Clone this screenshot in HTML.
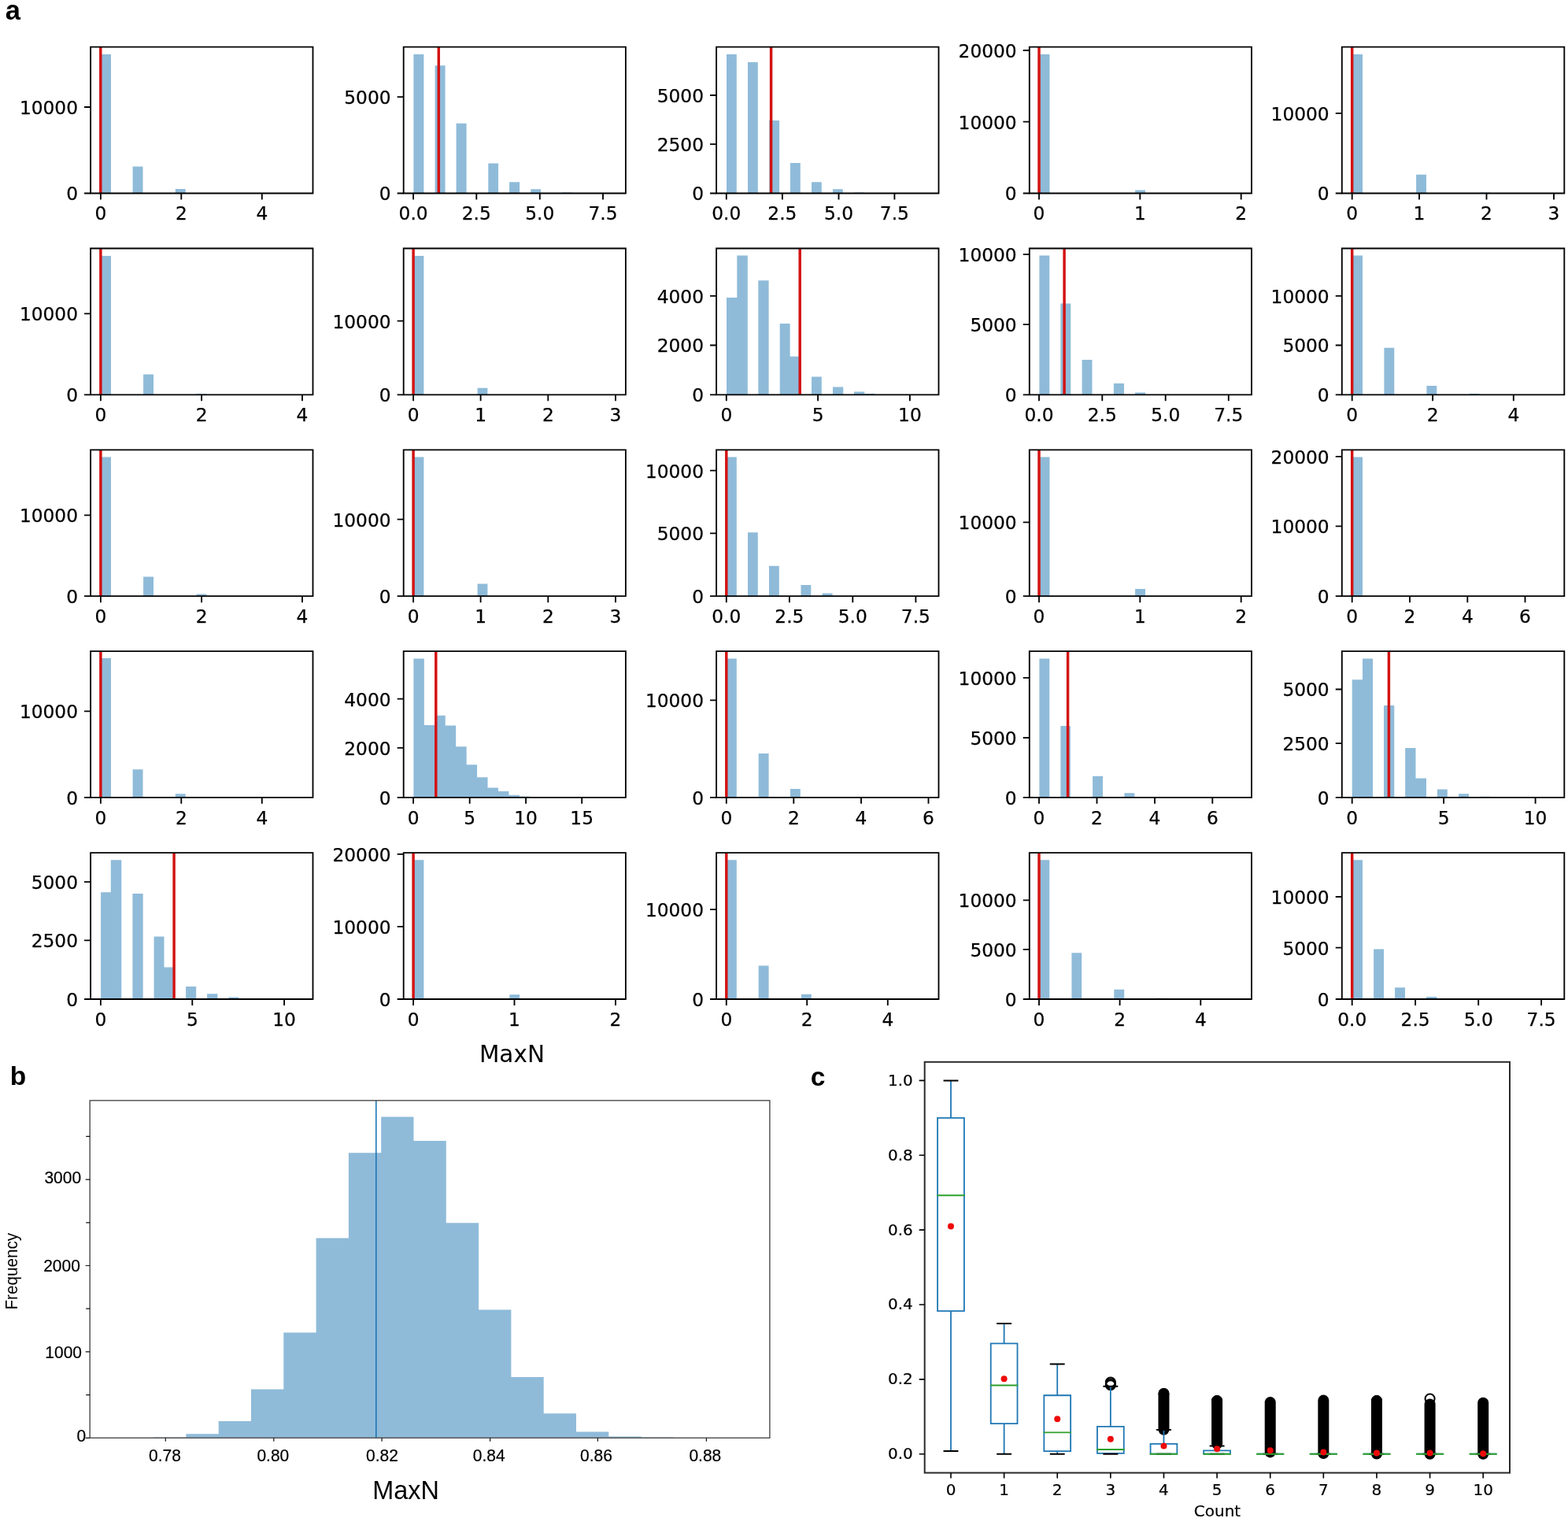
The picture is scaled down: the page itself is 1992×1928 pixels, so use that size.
<!DOCTYPE html>
<html><head><meta charset="utf-8"><title>Figure</title>
<style>html,body{margin:0;padding:0;background:#fff;}svg{display:block;}</style>
</head><body>
<svg width="1992" height="1928" viewBox="0 0 1992 1928">
<rect width="1992" height="1928" fill="#fff"/>
<path fill="#8fbbd9" d="M127.9 245.5H141V68.9H127.9ZM168.6 245.5H181.5V211.4H168.6ZM222.8 245.5H235.7V239.9H222.8ZM525.4 245.5H538.4V68.9H525.4ZM552.6 245.5H565.6V83.3H552.6ZM579.6 245.5H592.6V156.8H579.6ZM620.3 245.5H633.1V207.6H620.3ZM647.1 245.5H660.1V231.3H647.1ZM674.3 245.5H687.1V240.3H674.3ZM714.1 245.5H727V244.6H714.1ZM923 245.5H935.8V68.9H923ZM950 245.5H962.8V79H950ZM977.2 245.5H990.1V153.1H977.2ZM1004 245.5H1016.8V207.1H1004ZM1031 245.5H1043.8V231.3H1031ZM1058 245.5H1070.8V240.3H1058ZM1085.4 245.5H1098.3V244.6H1085.4ZM1320 245.5H1333.5V68.9H1320ZM1442.1 245.5H1455V241.4H1442.1ZM1717.7 245.5H1731V68.9H1717.7ZM1799.1 245.5H1812V221.7H1799.1ZM1880.6 245.5H1893.4V244.6H1880.6ZM127.9 501.3H141V324.9H127.9ZM182.1 501.3H195V475.6H182.1ZM249.6 501.3H262.5V500.2H249.6ZM525.1 501.3H538.4V324.9H525.1ZM606.6 501.3H619.4V492.7H606.6ZM923 501.3H936.3V378.1H923ZM936.3 501.3H949.8V324.5H936.3ZM963.3 501.3H976.6V356.2H963.3ZM990.7 501.3H1003.6V411.1H990.7ZM1003.6 501.3H1016.9V452.8H1003.6ZM1031 501.3H1043.8V478.6H1031ZM1058 501.3H1071.3V491.6H1058ZM1085 501.3H1098.3V497.4H1085ZM1098.3 501.3H1111.6V500H1098.3ZM1320.4 501.3H1333.3V324.5H1320.4ZM1347.4 501.3H1360.3V385.6H1347.4ZM1374.6 501.3H1387.5V457.1H1374.6ZM1414.9 501.3H1428V487.1H1414.9ZM1442.1 501.3H1455V498.5H1442.1ZM1717.7 501.3H1731V324.5H1717.7ZM1758.4 501.3H1771.3V441.7H1758.4ZM1812.4 501.3H1825.3V489.9H1812.4ZM1866.6 501.3H1879.5V500H1866.6ZM127.9 757.1H141V580.5H127.9ZM182.1 757.1H195V732.4H182.1ZM249.6 757.1H262.5V754.5H249.6ZM525.1 757.1H538.4V580.5H525.1ZM606.6 757.1H619.4V741.6H606.6ZM923 757.1H935.8V580.5H923ZM950 757.1H962.8V676.3H950ZM977 757.1H989.8V718.7H977ZM1017.5 757.1H1030.3V743.1H1017.5ZM1044.7 757.1H1057.6V753.4H1044.7ZM1320 757.1H1333.5V580.5H1320ZM1442.1 757.1H1455V748.1H1442.1ZM1717.7 757.1H1731V580.5H1717.7ZM127.9 1012.8H141V836.1H127.9ZM168.6 1012.8H181.5V977.3H168.6ZM222.8 1012.8H235.7V1008.3H222.8ZM525.4 1012.8H538.85V836.5H525.4ZM538.85 1012.8H552.3V921.1H538.85ZM552.3 1012.8H565.75V908.7H552.3ZM565.75 1012.8H579.2V921.6H565.75ZM579.2 1012.8H592.65V948.3H579.2ZM592.65 1012.8H606.1V971.3H592.65ZM606.1 1012.8H619.55V987.3H606.1ZM619.55 1012.8H633V1000.4H619.55ZM633 1012.8H646.45V1005.1H633ZM646.45 1012.8H659.9V1009.8H646.45ZM659.9 1012.8H673.35V1011.6H659.9ZM923 1012.8H935.8V836.5H923ZM963.7 1012.8H976.6V956.9H963.7ZM1004 1012.8H1016.8V1002.1H1004ZM1044.7 1012.8H1057.6V1012H1044.7ZM1320.4 1012.8H1333.3V836.5H1320.4ZM1347.4 1012.8H1359.8V922H1347.4ZM1388.1 1012.8H1401V985.8H1388.1ZM1428.4 1012.8H1441.3V1007.3H1428.4ZM1717.7 1012.8H1731V863.3H1717.7ZM1731 1012.8H1744.1V836.5H1731ZM1758 1012.8H1771.3V895.9H1758ZM1785.2 1012.8H1798.5V950.1H1785.2ZM1798.5 1012.8H1812V988.4H1798.5ZM1825.9 1012.8H1838.8V1002.6H1825.9ZM1853.1 1012.8H1866V1008.3H1853.1ZM1880.6 1012.8H1893.4V1011.8H1880.6ZM128.1 1269H140.8V1133.2H128.1ZM140.8 1269H154.3V1092.3H140.8ZM168.4 1269H181.7V1135.1H168.4ZM195.6 1269H208.5V1189.4H195.6ZM208.5 1269H221.5V1228.6H208.5ZM236.1 1269H249.2V1253H236.1ZM263.1 1269H276.4V1262.2H263.1ZM290.3 1269H303.2V1266.5H290.3ZM525.1 1269H538.4V1092.3H525.1ZM647.3 1269H660.1V1263.3H647.3ZM923 1269H935.8V1092.3H923ZM963.7 1269H976.6V1226.4H963.7ZM1017.9 1269H1030.8V1262.8H1017.9ZM1320.4 1269H1333.3V1092.3H1320.4ZM1361.4 1269H1374.2V1210.3H1361.4ZM1415.3 1269H1428.2V1256.8H1415.3ZM1469 1269H1481.9V1267.8H1469ZM1717.7 1269H1731V1092.3H1717.7ZM1745.1 1269H1758V1205.4H1745.1ZM1772.1 1269H1785V1254.3H1772.1ZM1812 1269H1825.3V1266.1H1812Z"/>
<path stroke="#d31212" stroke-width="3.45" fill="none" d="M127.8 59.7V245.5M557.3 59.7V245.5M979.6 59.7V245.5M1320 59.7V245.5M1717.7 59.7V245.5M127.9 315.5V501.3M525.1 315.5V501.3M1016.2 315.5V501.3M1352.1 315.5V501.3M1717.7 315.5V501.3M127.9 571.3V757.1M525.1 571.3V757.1M922.8 571.3V757.1M1320 571.3V757.1M1717.7 571.3V757.1M127.9 827.1V1012.8M553.8 827.1V1012.8M922.8 827.1V1012.8M1356.6 827.1V1012.8M1764.4 827.1V1012.8M221.1 1083.1V1269M525.1 1083.1V1269M922.8 1083.1V1269M1320 1083.1V1269M1717.7 1083.1V1269"/>
<path stroke="#000" stroke-width="1.84" fill="none" stroke-linejoin="miter" stroke-linecap="square" d="M115.1 59.7H397.5V245.5H115.1ZM512.7 59.7H794.9V245.5H512.7ZM910.1 59.7H1192.5V245.5H910.1ZM1307.8 59.7H1590V245.5H1307.8ZM1704.8 59.7H1987.3V245.5H1704.8ZM115.1 315.5H397.5V501.3H115.1ZM512.7 315.5H794.9V501.3H512.7ZM910.1 315.5H1192.5V501.3H910.1ZM1307.8 315.5H1590V501.3H1307.8ZM1704.8 315.5H1987.3V501.3H1704.8ZM115.1 571.3H397.5V757.1H115.1ZM512.7 571.3H794.9V757.1H512.7ZM910.1 571.3H1192.5V757.1H910.1ZM1307.8 571.3H1590V757.1H1307.8ZM1704.8 571.3H1987.3V757.1H1704.8ZM115.1 827.1H397.5V1012.8H115.1ZM512.7 827.1H794.9V1012.8H512.7ZM910.1 827.1H1192.5V1012.8H910.1ZM1307.8 827.1H1590V1012.8H1307.8ZM1704.8 827.1H1987.3V1012.8H1704.8ZM115.1 1083.1H397.5V1269H115.1ZM512.7 1083.1H794.9V1269H512.7ZM910.1 1083.1H1192.5V1269H910.1ZM1307.8 1083.1H1590V1269H1307.8ZM1704.8 1083.1H1987.3V1269H1704.8Z"/>
<path stroke="#000" stroke-width="1.84" fill="none" d="M127.9 245.5v8.05M230.3 245.5v8.05M332.8 245.5v8.05M115.1 245.5h-8.05M115.1 136h-8.05M525.1 245.5v8.05M605.3 245.5v8.05M685.8 245.5v8.05M766 245.5v8.05M512.7 245.5h-8.05M512.7 123.1h-8.05M922.8 245.5v8.05M993.9 245.5v8.05M1065.5 245.5v8.05M1136.4 245.5v8.05M910.1 245.5h-8.05M910.1 183.1h-8.05M910.1 121h-8.05M1320 245.5v8.05M1448.3 245.5v8.05M1576.7 245.5v8.05M1307.8 245.5h-8.05M1307.8 154.6h-8.05M1307.8 64h-8.05M1717.7 245.5v8.05M1803 245.5v8.05M1888.5 245.5v8.05M1974 245.5v8.05M1704.8 245.5h-8.05M1704.8 143.9h-8.05M127.9 501.3v8.05M256.1 501.3v8.05M384 501.3v8.05M115.1 501.3h-8.05M115.1 398.4h-8.05M525.1 501.3v8.05M610.6 501.3v8.05M696.3 501.3v8.05M782 501.3v8.05M512.7 501.3h-8.05M512.7 407.6h-8.05M922.8 501.3v8.05M1039.1 501.3v8.05M1155.9 501.3v8.05M910.1 501.3h-8.05M910.1 438.5h-8.05M910.1 375.9h-8.05M1320 501.3v8.05M1400.3 501.3v8.05M1480.7 501.3v8.05M1560.8 501.3v8.05M1307.8 501.3h-8.05M1307.8 412.1h-8.05M1307.8 323.2h-8.05M1717.7 501.3v8.05M1820.1 501.3v8.05M1922.8 501.3v8.05M1704.8 501.3h-8.05M1704.8 438.5h-8.05M1704.8 375.9h-8.05M127.9 757.1v8.05M256.1 757.1v8.05M384 757.1v8.05M115.1 757.1h-8.05M115.1 654.4h-8.05M525.1 757.1v8.05M610.6 757.1v8.05M696.3 757.1v8.05M782 757.1v8.05M512.7 757.1h-8.05M512.7 659.6h-8.05M922.8 757.1v8.05M1002.9 757.1v8.05M1083.3 757.1v8.05M1163.4 757.1v8.05M910.1 757.1h-8.05M910.1 677.4h-8.05M910.1 597.6h-8.05M1320 757.1v8.05M1448.3 757.1v8.05M1576.7 757.1v8.05M1307.8 757.1h-8.05M1307.8 663.4h-8.05M1717.7 757.1v8.05M1791 757.1v8.05M1864.3 757.1v8.05M1937.5 757.1v8.05M1704.8 757.1h-8.05M1704.8 668.4h-8.05M1704.8 579.9h-8.05M127.9 1012.8v8.05M230.3 1012.8v8.05M332.8 1012.8v8.05M115.1 1012.8h-8.05M115.1 903.4h-8.05M525.1 1012.8v8.05M596.7 1012.8v8.05M668.1 1012.8v8.05M739.2 1012.8v8.05M512.7 1012.8h-8.05M512.7 949.8h-8.05M512.7 887.7h-8.05M922.8 1012.8v8.05M1008.3 1012.8v8.05M1094 1012.8v8.05M1179.5 1012.8v8.05M910.1 1012.8h-8.05M910.1 889.4h-8.05M1320 1012.8v8.05M1393.5 1012.8v8.05M1467 1012.8v8.05M1540.3 1012.8v8.05M1307.8 1012.8h-8.05M1307.8 937h-8.05M1307.8 860.9h-8.05M1717.7 1012.8v8.05M1834.1 1012.8v8.05M1950.6 1012.8v8.05M1704.8 1012.8h-8.05M1704.8 944.1h-8.05M1704.8 875.5h-8.05M127.9 1269v8.05M244.3 1269v8.05M361.1 1269v8.05M115.1 1269h-8.05M115.1 1194.3h-8.05M115.1 1120.1h-8.05M525.1 1269v8.05M653.5 1269v8.05M782 1269v8.05M512.7 1269h-8.05M512.7 1176.9h-8.05M512.7 1084.8h-8.05M922.8 1269v8.05M1025.2 1269v8.05M1127.8 1269v8.05M910.1 1269h-8.05M910.1 1155.1h-8.05M1320 1269v8.05M1422.6 1269v8.05M1525.3 1269v8.05M1307.8 1269h-8.05M1307.8 1205.8h-8.05M1307.8 1143.3h-8.05M1717.7 1269v8.05M1798.1 1269v8.05M1878.2 1269v8.05M1958.1 1269v8.05M1704.8 1269h-8.05M1704.8 1203.7h-8.05M1704.8 1139h-8.05"/>
<g font-family="'DejaVu Sans', 'Liberation Sans', sans-serif" font-size="23.3" fill="#000" stroke="#000" stroke-width="0.25">
<text x="127.9" y="279.4" text-anchor="middle">0</text><text x="230.3" y="279.4" text-anchor="middle">2</text><text x="332.8" y="279.4" text-anchor="middle">4</text><text x="99" y="254.4" text-anchor="end">0</text><text x="99" y="144.9" text-anchor="end">10000</text><text x="525.1" y="279.4" text-anchor="middle">0.0</text><text x="605.3" y="279.4" text-anchor="middle">2.5</text><text x="685.8" y="279.4" text-anchor="middle">5.0</text><text x="766" y="279.4" text-anchor="middle">7.5</text><text x="496.6" y="254.4" text-anchor="end">0</text><text x="496.6" y="132" text-anchor="end">5000</text><text x="922.8" y="279.4" text-anchor="middle">0.0</text><text x="993.9" y="279.4" text-anchor="middle">2.5</text><text x="1065.5" y="279.4" text-anchor="middle">5.0</text><text x="1136.4" y="279.4" text-anchor="middle">7.5</text><text x="894" y="254.4" text-anchor="end">0</text><text x="894" y="192" text-anchor="end">2500</text><text x="894" y="129.9" text-anchor="end">5000</text><text x="1320" y="279.4" text-anchor="middle">0</text><text x="1448.3" y="279.4" text-anchor="middle">1</text><text x="1576.7" y="279.4" text-anchor="middle">2</text><text x="1291.7" y="254.4" text-anchor="end">0</text><text x="1291.7" y="163.5" text-anchor="end">10000</text><text x="1291.7" y="72.9" text-anchor="end">20000</text><text x="1717.7" y="279.4" text-anchor="middle">0</text><text x="1803" y="279.4" text-anchor="middle">1</text><text x="1888.5" y="279.4" text-anchor="middle">2</text><text x="1974" y="279.4" text-anchor="middle">3</text><text x="1688.7" y="254.4" text-anchor="end">0</text><text x="1688.7" y="152.8" text-anchor="end">10000</text><text x="127.9" y="535.2" text-anchor="middle">0</text><text x="256.1" y="535.2" text-anchor="middle">2</text><text x="384" y="535.2" text-anchor="middle">4</text><text x="99" y="510.2" text-anchor="end">0</text><text x="99" y="407.3" text-anchor="end">10000</text><text x="525.1" y="535.2" text-anchor="middle">0</text><text x="610.6" y="535.2" text-anchor="middle">1</text><text x="696.3" y="535.2" text-anchor="middle">2</text><text x="782" y="535.2" text-anchor="middle">3</text><text x="496.6" y="510.2" text-anchor="end">0</text><text x="496.6" y="416.5" text-anchor="end">10000</text><text x="922.8" y="535.2" text-anchor="middle">0</text><text x="1039.1" y="535.2" text-anchor="middle">5</text><text x="1155.9" y="535.2" text-anchor="middle">10</text><text x="894" y="510.2" text-anchor="end">0</text><text x="894" y="447.4" text-anchor="end">2000</text><text x="894" y="384.8" text-anchor="end">4000</text><text x="1320" y="535.2" text-anchor="middle">0.0</text><text x="1400.3" y="535.2" text-anchor="middle">2.5</text><text x="1480.7" y="535.2" text-anchor="middle">5.0</text><text x="1560.8" y="535.2" text-anchor="middle">7.5</text><text x="1291.7" y="510.2" text-anchor="end">0</text><text x="1291.7" y="421" text-anchor="end">5000</text><text x="1291.7" y="332.1" text-anchor="end">10000</text><text x="1717.7" y="535.2" text-anchor="middle">0</text><text x="1820.1" y="535.2" text-anchor="middle">2</text><text x="1922.8" y="535.2" text-anchor="middle">4</text><text x="1688.7" y="510.2" text-anchor="end">0</text><text x="1688.7" y="447.4" text-anchor="end">5000</text><text x="1688.7" y="384.8" text-anchor="end">10000</text><text x="127.9" y="791" text-anchor="middle">0</text><text x="256.1" y="791" text-anchor="middle">2</text><text x="384" y="791" text-anchor="middle">4</text><text x="99" y="766" text-anchor="end">0</text><text x="99" y="663.3" text-anchor="end">10000</text><text x="525.1" y="791" text-anchor="middle">0</text><text x="610.6" y="791" text-anchor="middle">1</text><text x="696.3" y="791" text-anchor="middle">2</text><text x="782" y="791" text-anchor="middle">3</text><text x="496.6" y="766" text-anchor="end">0</text><text x="496.6" y="668.5" text-anchor="end">10000</text><text x="922.8" y="791" text-anchor="middle">0.0</text><text x="1002.9" y="791" text-anchor="middle">2.5</text><text x="1083.3" y="791" text-anchor="middle">5.0</text><text x="1163.4" y="791" text-anchor="middle">7.5</text><text x="894" y="766" text-anchor="end">0</text><text x="894" y="686.3" text-anchor="end">5000</text><text x="894" y="606.5" text-anchor="end">10000</text><text x="1320" y="791" text-anchor="middle">0</text><text x="1448.3" y="791" text-anchor="middle">1</text><text x="1576.7" y="791" text-anchor="middle">2</text><text x="1291.7" y="766" text-anchor="end">0</text><text x="1291.7" y="672.3" text-anchor="end">10000</text><text x="1717.7" y="791" text-anchor="middle">0</text><text x="1791" y="791" text-anchor="middle">2</text><text x="1864.3" y="791" text-anchor="middle">4</text><text x="1937.5" y="791" text-anchor="middle">6</text><text x="1688.7" y="766" text-anchor="end">0</text><text x="1688.7" y="677.3" text-anchor="end">10000</text><text x="1688.7" y="588.8" text-anchor="end">20000</text><text x="127.9" y="1046.7" text-anchor="middle">0</text><text x="230.3" y="1046.7" text-anchor="middle">2</text><text x="332.8" y="1046.7" text-anchor="middle">4</text><text x="99" y="1021.7" text-anchor="end">0</text><text x="99" y="912.3" text-anchor="end">10000</text><text x="525.1" y="1046.7" text-anchor="middle">0</text><text x="596.7" y="1046.7" text-anchor="middle">5</text><text x="668.1" y="1046.7" text-anchor="middle">10</text><text x="739.2" y="1046.7" text-anchor="middle">15</text><text x="496.6" y="1021.7" text-anchor="end">0</text><text x="496.6" y="958.7" text-anchor="end">2000</text><text x="496.6" y="896.6" text-anchor="end">4000</text><text x="922.8" y="1046.7" text-anchor="middle">0</text><text x="1008.3" y="1046.7" text-anchor="middle">2</text><text x="1094" y="1046.7" text-anchor="middle">4</text><text x="1179.5" y="1046.7" text-anchor="middle">6</text><text x="894" y="1021.7" text-anchor="end">0</text><text x="894" y="898.3" text-anchor="end">10000</text><text x="1320" y="1046.7" text-anchor="middle">0</text><text x="1393.5" y="1046.7" text-anchor="middle">2</text><text x="1467" y="1046.7" text-anchor="middle">4</text><text x="1540.3" y="1046.7" text-anchor="middle">6</text><text x="1291.7" y="1021.7" text-anchor="end">0</text><text x="1291.7" y="945.9" text-anchor="end">5000</text><text x="1291.7" y="869.8" text-anchor="end">10000</text><text x="1717.7" y="1046.7" text-anchor="middle">0</text><text x="1834.1" y="1046.7" text-anchor="middle">5</text><text x="1950.6" y="1046.7" text-anchor="middle">10</text><text x="1688.7" y="1021.7" text-anchor="end">0</text><text x="1688.7" y="953" text-anchor="end">2500</text><text x="1688.7" y="884.4" text-anchor="end">5000</text><text x="127.9" y="1302.9" text-anchor="middle">0</text><text x="244.3" y="1302.9" text-anchor="middle">5</text><text x="361.1" y="1302.9" text-anchor="middle">10</text><text x="99" y="1277.9" text-anchor="end">0</text><text x="99" y="1203.2" text-anchor="end">2500</text><text x="99" y="1129" text-anchor="end">5000</text><text x="525.1" y="1302.9" text-anchor="middle">0</text><text x="653.5" y="1302.9" text-anchor="middle">1</text><text x="782" y="1302.9" text-anchor="middle">2</text><text x="496.6" y="1277.9" text-anchor="end">0</text><text x="496.6" y="1185.8" text-anchor="end">10000</text><text x="496.6" y="1093.7" text-anchor="end">20000</text><text x="922.8" y="1302.9" text-anchor="middle">0</text><text x="1025.2" y="1302.9" text-anchor="middle">2</text><text x="1127.8" y="1302.9" text-anchor="middle">4</text><text x="894" y="1277.9" text-anchor="end">0</text><text x="894" y="1164" text-anchor="end">10000</text><text x="1320" y="1302.9" text-anchor="middle">0</text><text x="1422.6" y="1302.9" text-anchor="middle">2</text><text x="1525.3" y="1302.9" text-anchor="middle">4</text><text x="1291.7" y="1277.9" text-anchor="end">0</text><text x="1291.7" y="1214.7" text-anchor="end">5000</text><text x="1291.7" y="1152.2" text-anchor="end">10000</text><text x="1717.7" y="1302.9" text-anchor="middle">0.0</text><text x="1798.1" y="1302.9" text-anchor="middle">2.5</text><text x="1878.2" y="1302.9" text-anchor="middle">5.0</text><text x="1958.1" y="1302.9" text-anchor="middle">7.5</text><text x="1688.7" y="1277.9" text-anchor="end">0</text><text x="1688.7" y="1212.6" text-anchor="end">5000</text><text x="1688.7" y="1147.9" text-anchor="end">10000</text>
</g>
<text x="650.45" y="1348.6" text-anchor="middle" font-family="'DejaVu Sans', 'Liberation Sans', sans-serif" font-size="31" textLength="83" lengthAdjust="spacingAndGlyphs">MaxN</text>
<path fill="#8fbbd9" d="M195.1 1826.3H236.4V1825.5H195.1ZM236.4 1826.3H277.7V1821.3H236.4ZM277.7 1826.3H319V1805.1H277.7ZM319 1826.3H360.3V1764.5H319ZM360.3 1826.3H401.6V1692.6H360.3ZM401.6 1826.3H442.9V1572.5H401.6ZM442.9 1826.3H484.2V1464.2H442.9ZM484.2 1826.3H525.5V1418.5H484.2ZM525.5 1826.3H566.8V1449.1H525.5ZM566.8 1826.3H608.1V1553.3H566.8ZM608.1 1826.3H649.4V1663.6H608.1ZM649.4 1826.3H690.7V1749H649.4ZM690.7 1826.3H732V1795.3H690.7ZM732 1826.3H773.3V1818.4H732ZM773.3 1826.3H814.6V1824.5H773.3ZM814.6 1826.3H855.9V1825.5H814.6Z"/>
<path stroke="#1f77b4" stroke-width="1.6" d="M477.8 1397.7V1826.3"/>
<rect x="114.2" y="1397.7" width="863.7" height="428.6" fill="none" stroke="#555" stroke-width="1.5"/>
<path stroke="#111" stroke-width="1.2" fill="none" d="M210.3 1826.3v4.5M347.8 1826.3v4.5M485.1 1826.3v4.5M622.6 1826.3v4.5M759.4 1826.3v4.5M897.4 1826.3v4.5M114.2 1826.3h-5.5M114.2 1716.9h-5.5M114.2 1607.5h-5.5M114.2 1498.1h-5.5M114.2 1771.6h-5M114.2 1662.2h-5M114.2 1552.8h-5M114.2 1443.4h-5"/>
<g font-family="'Liberation Sans', Arial, sans-serif" font-size="21" fill="#000" stroke="#000" stroke-width="0.2">
<text transform="translate(209.5 1856.1) scale(1 1.04)" text-anchor="middle">0.78</text><text transform="translate(346.8 1856.1) scale(1 1.04)" text-anchor="middle">0.80</text><text transform="translate(485.4 1856.1) scale(1 1.04)" text-anchor="middle">0.82</text><text transform="translate(621.2 1856.1) scale(1 1.04)" text-anchor="middle">0.84</text><text transform="translate(757.4 1856.1) scale(1 1.04)" text-anchor="middle">0.86</text><text transform="translate(895.8 1856.1) scale(1 1.04)" text-anchor="middle">0.88</text><text transform="translate(109.2 1831.4) scale(1 1.06)" text-anchor="end">0</text><text transform="translate(104 1724.5) scale(1 1.06)" text-anchor="end">1000</text><text transform="translate(101.85 1614.5) scale(1 1.06)" text-anchor="end">2000</text><text transform="translate(103.1 1503.4) scale(1 1.06)" text-anchor="end">3000</text>
</g>
<g font-family="'Liberation Sans', Arial, sans-serif" font-size="20.7" fill="#000">
<text transform="translate(22.0 1614.7) rotate(-90) scale(1 1.06)" text-anchor="middle">Frequency</text>
</g>
<text x="515.6" y="1903.6" text-anchor="middle" font-family="'Liberation Sans', Arial, sans-serif" font-size="32.4">MaxN</text>
<g fill="#000"><rect x="1471.48" y="1762.9" width="14" height="59.8" rx="7" ry="7"/><rect x="1539.1" y="1772.1" width="14" height="68.6" rx="7" ry="7"/><rect x="1606.72" y="1774.1" width="14" height="77.3" rx="7" ry="7"/><rect x="1674.34" y="1771.6" width="14" height="81.4" rx="7" ry="7"/><rect x="1741.96" y="1772.1" width="14" height="81.5" rx="7" ry="7"/><rect x="1809.58" y="1776.4" width="14" height="77.4" rx="7" ry="7"/><rect x="1877.2" y="1774.8" width="14" height="79" rx="7" ry="7"/></g><g fill="none" stroke="#000" stroke-width="2"><circle cx="1410.86" cy="1755.5" r="6"/><circle cx="1410.86" cy="1757.4" r="6"/><circle cx="1410.86" cy="1759.3" r="6"/><circle cx="1816.58" cy="1776.5" r="6"/><circle cx="1478.48" cy="1769.9" r="6"/><circle cx="1546.1" cy="1779.1" r="6"/><circle cx="1748.96" cy="1779.1" r="6"/></g><path stroke="#1f77b4" stroke-width="1.8" fill="none" d="M1191.1 1665.04H1224.9V1419.83H1191.1ZM1208 1419.83V1372.4M1208 1665.04V1843.1M1258.72 1808.09H1292.52V1706.31H1258.72ZM1275.62 1706.31V1680.88M1275.62 1808.09V1846.7M1326.34 1843.19H1360.14V1772.23H1326.34ZM1343.24 1772.23V1732.49M1343.24 1843.19V1846.7M1393.96 1845.89H1427.76V1811.89H1393.96ZM1410.86 1811.89V1760.71M1410.86 1845.89V1846.7M1461.58 1846.7H1495.38V1833.8H1461.58ZM1478.48 1833.8V1816.11M1529.2 1846.7H1563V1842.29H1529.2ZM1546.1 1842.29V1836.41M1596.82 1846.7H1630.62V1846.7H1596.82ZM1664.44 1846.7H1698.24V1846.7H1664.44ZM1732.06 1846.7H1765.86V1846.7H1732.06ZM1799.68 1846.7H1833.48V1846.7H1799.68ZM1867.3 1846.7H1901.1V1846.7H1867.3Z"/><path stroke="#000" stroke-width="2" fill="none" d="M1198.55 1372.4H1217.45M1198.55 1843.1H1217.45M1266.17 1680.88H1285.07M1266.17 1846.7H1285.07M1333.79 1732.49H1352.69M1333.79 1846.7H1352.69M1401.41 1760.71H1420.31M1401.41 1846.7H1420.31M1469.03 1816.11H1487.93M1469.03 1846.7H1487.93M1536.65 1836.41H1555.55M1536.65 1846.7H1555.55M1604.27 1846.7H1623.17M1604.27 1846.7H1623.17M1671.89 1846.7H1690.79M1671.89 1846.7H1690.79M1739.51 1846.7H1758.41M1739.51 1846.7H1758.41M1807.13 1846.7H1826.03M1807.13 1846.7H1826.03M1874.75 1846.7H1893.65M1874.75 1846.7H1893.65"/><path stroke="#2ca02c" stroke-width="1.9" fill="none" d="M1190.3 1518.2H1225.7M1257.92 1759.43H1293.32M1325.54 1819.38H1360.94M1393.16 1841.01H1428.56M1460.78 1846.7H1496.18M1528.4 1846.7H1563.8M1596.02 1846.7H1631.42M1663.64 1846.7H1699.04M1731.26 1846.7H1766.66M1798.88 1846.7H1834.28M1866.5 1846.7H1901.9"/><g fill="#ee0a0a"><circle cx="1208" cy="1557.52" r="4"/><circle cx="1275.62" cy="1751.37" r="4"/><circle cx="1343.24" cy="1802.21" r="4"/><circle cx="1410.86" cy="1827.73" r="4"/><circle cx="1478.48" cy="1836.5" r="4"/><circle cx="1546.1" cy="1840.2" r="4"/><circle cx="1613.72" cy="1842.29" r="4"/><circle cx="1681.34" cy="1844.52" r="4"/><circle cx="1748.96" cy="1845.51" r="4"/><circle cx="1816.58" cy="1845.51" r="4"/><circle cx="1884.2" cy="1846.13" r="4"/></g>
<rect x="1174.7" y="1348.8" width="743.3" height="521.8" fill="none" stroke="#2a2a2a" stroke-width="2"/>
<path stroke="#000" stroke-width="1.6" fill="none" d="M1208 1870.6v7M1275.62 1870.6v7M1343.24 1870.6v7M1410.86 1870.6v7M1478.48 1870.6v7M1546.1 1870.6v7M1613.72 1870.6v7M1681.34 1870.6v7M1748.96 1870.6v7M1816.58 1870.6v7M1884.2 1870.6v7M1174.7 1846.7h-7M1174.7 1751.84h-7M1174.7 1656.98h-7M1174.7 1562.12h-7M1174.7 1467.26h-7M1174.7 1372.4h-7"/>
<g font-family="'DejaVu Sans', 'Liberation Sans', sans-serif" font-size="20" fill="#000" stroke="#000" stroke-width="0.2">
<text x="1208" y="1899.2" text-anchor="middle">0</text><text x="1275.62" y="1899.2" text-anchor="middle">1</text><text x="1343.24" y="1899.2" text-anchor="middle">2</text><text x="1410.86" y="1899.2" text-anchor="middle">3</text><text x="1478.48" y="1899.2" text-anchor="middle">4</text><text x="1546.1" y="1899.2" text-anchor="middle">5</text><text x="1613.72" y="1899.2" text-anchor="middle">6</text><text x="1681.34" y="1899.2" text-anchor="middle">7</text><text x="1748.96" y="1899.2" text-anchor="middle">8</text><text x="1816.58" y="1899.2" text-anchor="middle">9</text><text x="1884.2" y="1899.2" text-anchor="middle">10</text><text x="1159.8" y="1853.1" text-anchor="end">0.0</text><text x="1159.8" y="1758.24" text-anchor="end">0.2</text><text x="1159.8" y="1663.38" text-anchor="end">0.4</text><text x="1159.8" y="1568.52" text-anchor="end">0.6</text><text x="1159.8" y="1473.66" text-anchor="end">0.8</text><text x="1159.8" y="1378.8" text-anchor="end">1.0</text>
<text x="1546.5" y="1926.4" text-anchor="middle">Count</text>
</g>
<g font-family="'Liberation Sans', Arial, sans-serif" font-weight="bold" font-size="33.5" fill="#000">
<text x="6.8" y="24.8" font-size="34.5">a</text>
<text x="12.8" y="1378.3">b</text>
<text x="1029.8" y="1378.5">c</text>
</g>
</svg>
</body></html>
